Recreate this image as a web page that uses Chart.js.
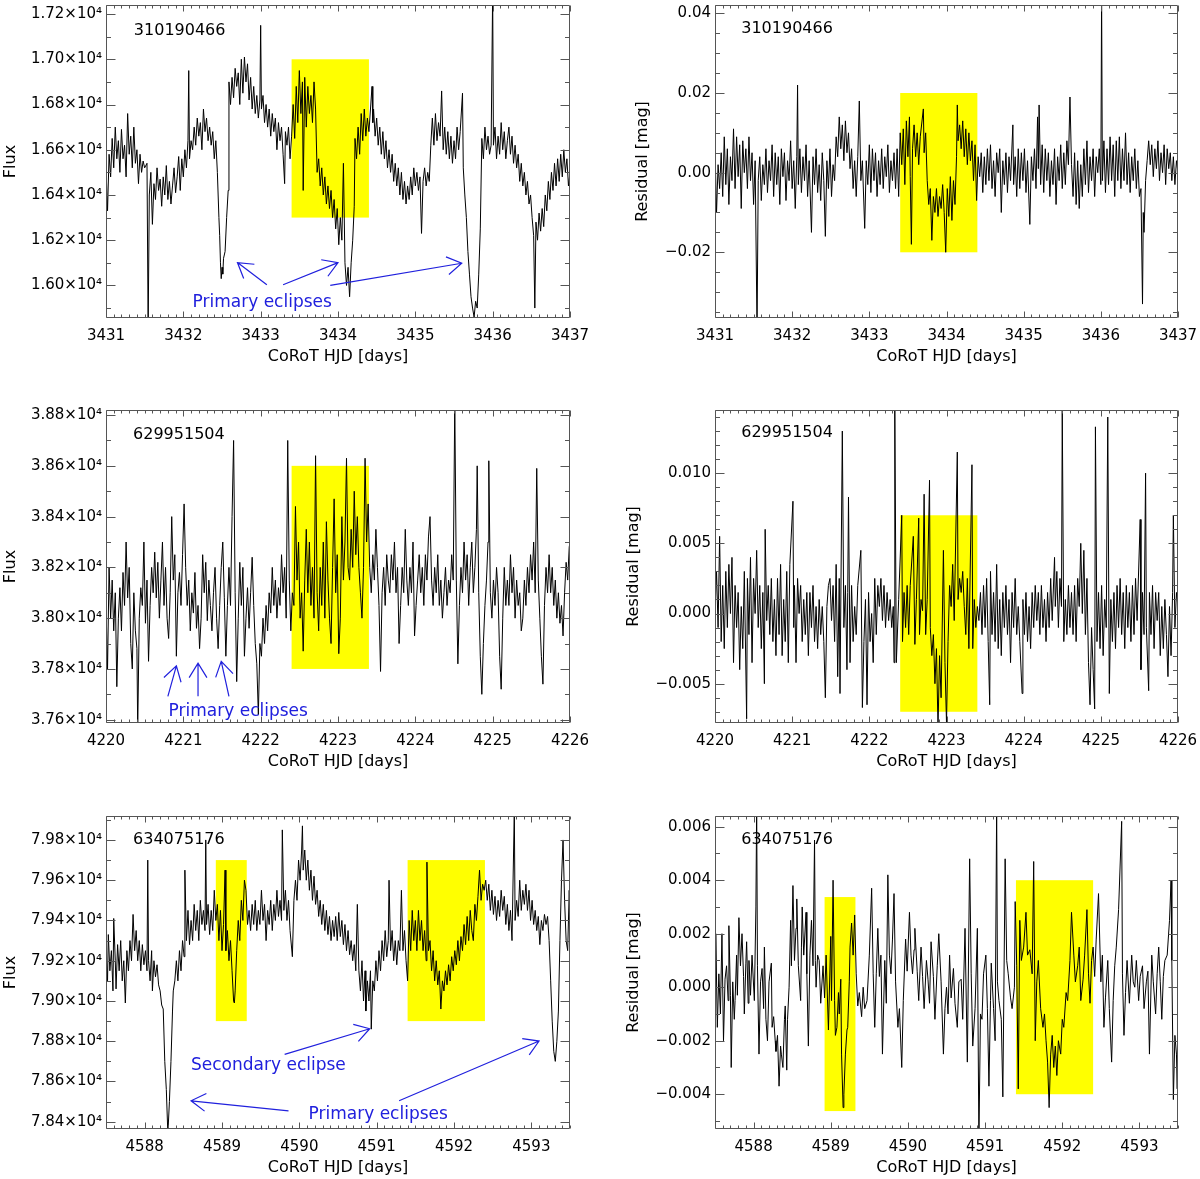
<!DOCTYPE html>
<html>
<head>
<meta charset="utf-8">
<script src="https://cdn.jsdelivr.net/npm/chart.js@4.4.1/dist/chart.umd.min.js"></script>
<style>
html, body { margin: 0; padding: 0; background: #fff; }
body { width: 1200px; height: 1179px; position: relative; overflow: hidden; }
canvas { position: absolute; }
</style>
</head>
<body>
<canvas id="p1" width="590" height="368" style="left:0px;top:0px"></canvas>
<canvas id="p2" width="600" height="368" style="left:600px;top:0px"></canvas>
<canvas id="p3" width="590" height="368" style="left:0px;top:405px"></canvas>
<canvas id="p4" width="600" height="368" style="left:600px;top:405px"></canvas>
<canvas id="p5" width="590" height="368" style="left:0px;top:811px"></canvas>
<canvas id="p6" width="600" height="368" style="left:600px;top:811px"></canvas>
<script>
// light curves: [CoRoT HJD, value]
const flux310 = [
  [3431.00,16520],[3431.02,16330],[3431.04,16580],[3431.06,16480],[3431.08,16650],[3431.10,16520],[3431.12,16700],[3431.14,16560],
  [3431.16,16640],[3431.18,16500],[3431.20,16690],[3431.22,16560],[3431.24,16620],[3431.26,16480],[3431.28,16760],[3431.30,16580],
  [3431.32,16660],[3431.34,16520],[3431.36,16700],[3431.38,16540],[3431.40,16600],[3431.42,16450],[3431.44,16580],[3431.46,16500],
  [3431.48,16550],[3431.50,16520],[3431.53,16540],[3431.545,15800],[3431.56,16400],[3431.58,16500],[3431.60,16270],[3431.62,16450],
  [3431.64,16380],[3431.66,16520],[3431.68,16420],[3431.70,16470],[3431.72,16350],[3431.74,16480],[3431.76,16400],[3431.78,16530],
  [3431.80,16380],[3431.82,16460],[3431.84,16360],[3431.86,16440],[3431.88,16520],[3431.90,16410],[3431.92,16480],[3431.94,16570],
  [3431.96,16420],[3431.98,16560],[3432.00,16480],[3432.02,16600],[3432.04,16520],[3432.06,16640],[3432.07,16950],[3432.08,16560],
  [3432.10,16640],[3432.12,16600],[3432.14,16700],[3432.16,16620],[3432.18,16740],[3432.20,16660],[3432.22,16720],[3432.24,16600],
  [3432.26,16780],[3432.28,16680],[3432.30,16740],[3432.32,16640],[3432.34,16700],[3432.36,16620],[3432.38,16680],[3432.40,16560],
  [3432.42,16640],[3432.44,16500],[3432.46,16300],[3432.47,16220],[3432.48,16100],[3432.49,16030],[3432.50,16080],[3432.51,16050],
  [3432.52,16120],[3432.54,16150],[3432.56,16300],[3432.58,16420],[3432.59,16900],[3432.61,16800],[3432.63,16920],[3432.65,16830],
  [3432.67,16960],[3432.69,16880],[3432.71,16940],[3432.73,16800],[3432.75,17000],[3432.77,16850],[3432.79,17010],[3432.81,16900],
  [3432.83,16980],[3432.85,16820],[3432.87,16920],[3432.89,16780],[3432.91,16880],[3432.93,16760],[3432.95,16840],[3432.97,16740],
  [3432.99,16820],[3433.00,17150],[3433.01,16780],[3433.03,16840],[3433.05,16720],[3433.07,16800],[3433.09,16700],[3433.11,16780],
  [3433.13,16660],[3433.15,16760],[3433.17,16680],[3433.19,16740],[3433.21,16600],[3433.23,16720],[3433.25,16640],[3433.27,16700],
  [3433.29,16580],[3433.31,16450],[3433.32,16680],[3433.34,16620],[3433.36,16700],[3433.38,16560],[3433.40,16660],[3433.42,16800],
  [3433.44,16650],[3433.46,16880],[3433.48,16720],[3433.50,16950],[3433.52,16760],[3433.54,16900],[3433.55,16420],[3433.57,16920],
  [3433.59,16700],[3433.61,16880],[3433.63,16760],[3433.65,16840],[3433.67,16720],[3433.69,16900],[3433.71,16780],[3433.73,16500],
  [3433.75,16560],[3433.77,16440],[3433.79,16520],[3433.81,16400],[3433.83,16480],[3433.85,16360],[3433.87,16440],[3433.89,16340],
  [3433.91,16420],[3433.93,16300],[3433.95,16380],[3433.97,16250],[3433.99,16340],[3434.01,16180],[3434.03,16300],[3434.05,16200],
  [3434.07,16540],[3434.09,16100],[3434.11,16000],[3434.13,16080],[3434.15,15950],[3434.17,16100],[3434.19,16200],[3434.21,16350],
  [3434.22,16650],[3434.24,16560],[3434.26,16700],[3434.28,16580],[3434.30,16760],[3434.32,16640],[3434.34,16780],[3434.36,16660],
  [3434.38,16740],[3434.40,16680],[3434.44,16880],[3434.45,16720],[3434.46,16780],[3434.48,16660],[3434.50,16740],[3434.52,16620],
  [3434.54,16700],[3434.56,16580],[3434.58,16680],[3434.60,16560],[3434.62,16640],[3434.64,16520],[3434.66,16600],[3434.68,16500],
  [3434.70,16580],[3434.72,16460],[3434.74,16540],[3434.76,16440],[3434.78,16520],[3434.80,16400],[3434.82,16500],[3434.84,16380],
  [3434.86,16460],[3434.88,16360],[3434.90,16440],[3434.92,16380],[3434.94,16480],[3434.96,16400],[3434.98,16520],[3435.00,16440],
  [3435.02,16500],[3435.04,16420],[3435.06,16480],[3435.08,16230],[3435.10,16460],[3435.12,16520],[3435.14,16440],[3435.16,16500],
  [3435.18,16460],[3435.20,16620],[3435.22,16740],[3435.24,16620],[3435.26,16760],[3435.28,16640],[3435.30,16720],[3435.32,16660],
  [3435.34,16860],[3435.36,16600],[3435.38,16700],[3435.40,16580],[3435.42,16680],[3435.44,16560],[3435.46,16660],[3435.48,16540],
  [3435.50,16640],[3435.52,16560],[3435.54,16700],[3435.56,16600],[3435.58,16680],[3435.61,16850],[3435.62,16520],[3435.64,16400],
  [3435.66,16300],[3435.68,16150],[3435.70,16050],[3435.72,15950],[3435.74,15900],[3435.76,15860],[3435.78,15930],[3435.80,15900],
  [3435.82,16050],[3435.84,16250],[3435.86,16650],[3435.88,16560],[3435.90,16700],[3435.92,16600],[3435.94,16660],[3435.96,16580],
  [3435.98,16620],[3436.00,17300],[3436.01,16620],[3436.03,16700],[3436.05,16560],[3436.07,16660],[3436.09,16580],[3436.11,16720],
  [3436.13,16600],[3436.15,16680],[3436.17,16560],[3436.19,16640],[3436.21,16700],[3436.23,16580],[3436.25,16660],[3436.27,16540],
  [3436.29,16620],[3436.31,16520],[3436.33,16580],[3436.35,16460],[3436.37,16540],[3436.39,16440],[3436.41,16500],[3436.43,16400],
  [3436.45,16460],[3436.47,16360],[3436.49,16400],[3436.51,16300],[3436.53,16220],[3436.545,15900],[3436.56,16280],[3436.58,16200],
  [3436.60,16320],[3436.62,16240],[3436.64,16340],[3436.66,16260],[3436.68,16400],[3436.70,16330],[3436.72,16460],[3436.74,16380],
  [3436.76,16500],[3436.78,16420],[3436.80,16540],[3436.82,16440],[3436.84,16560],[3436.86,16460],[3436.88,16580],[3436.90,16480],
  [3436.92,16600],[3436.94,16500],[3436.96,16560],[3436.98,16440],[3437.00,16500]
];
const resid310 = [
  [3431.00,0.006],[3431.02,-0.010],[3431.04,0.002],[3431.06,-0.004],[3431.08,0.005],[3431.10,-0.006],[3431.12,0.009],[3431.14,-0.003],
  [3431.16,0.006],[3431.18,-0.008],[3431.20,0.004],[3431.22,-0.002],[3431.24,0.011],[3431.26,-0.004],[3431.28,0.009],[3431.30,-0.001],
  [3431.32,0.007],[3431.34,-0.009],[3431.36,0.008],[3431.38,0.000],[3431.40,0.006],[3431.42,-0.004],[3431.44,0.009],[3431.46,-0.002],
  [3431.48,0.005],[3431.50,-0.008],[3431.52,0.003],[3431.545,-0.040],[3431.56,-0.002],[3431.58,0.004],[3431.60,-0.007],[3431.62,0.002],
  [3431.64,-0.003],[3431.66,0.006],[3431.68,-0.005],[3431.70,0.003],[3431.72,-0.002],[3431.74,0.007],[3431.76,-0.006],[3431.78,0.005],
  [3431.80,-0.003],[3431.82,0.004],[3431.84,-0.008],[3431.86,0.006],[3431.88,-0.001],[3431.90,0.005],[3431.92,-0.007],[3431.94,0.003],
  [3431.96,-0.002],[3431.98,0.008],[3432.00,-0.004],[3432.02,0.003],[3432.04,-0.009],[3432.06,0.004],[3432.07,0.022],[3432.08,-0.003],
  [3432.10,0.006],[3432.12,-0.005],[3432.14,0.004],[3432.16,-0.002],[3432.18,0.007],[3432.20,-0.006],[3432.22,0.003],[3432.25,-0.015],
  [3432.27,0.004],[3432.29,-0.003],[3432.31,0.006],[3432.33,-0.005],[3432.35,0.002],[3432.37,-0.007],[3432.39,0.005],[3432.41,-0.002],
  [3432.43,-0.016],[3432.45,0.003],[3432.47,-0.004],[3432.49,0.006],[3432.51,-0.006],[3432.53,0.002],[3432.55,-0.002],[3432.57,0.009],
  [3432.59,0.004],[3432.61,0.014],[3432.63,0.006],[3432.65,0.012],[3432.67,0.003],[3432.69,0.013],[3432.71,0.005],[3432.73,0.010],
  [3432.75,0.001],[3432.77,0.006],[3432.79,-0.004],[3432.81,0.003],[3432.83,-0.006],[3432.85,0.004],[3432.87,0.018],[3432.89,-0.002],
  [3432.91,0.003],[3432.94,-0.014],[3432.96,0.003],[3432.98,-0.003],[3433.00,0.007],[3433.02,-0.005],[3433.04,0.006],[3433.06,-0.002],
  [3433.08,0.005],[3433.10,-0.006],[3433.12,0.003],[3433.14,-0.003],[3433.16,0.006],[3433.18,-0.004],[3433.20,0.004],[3433.22,-0.001],
  [3433.24,0.007],[3433.26,-0.005],[3433.28,0.003],[3433.30,-0.002],[3433.32,0.005],[3433.34,-0.004],[3433.36,0.006],[3433.38,-0.006],
  [3433.40,0.010],[3433.42,0.002],[3433.44,0.011],[3433.46,-0.003],[3433.48,0.013],[3433.50,0.004],[3433.52,0.014],[3433.53,-0.001],
  [3433.545,-0.018],[3433.56,0.006],[3433.58,0.012],[3433.60,0.004],[3433.62,0.010],[3433.64,0.002],[3433.66,0.009],[3433.70,0.016],
  [3433.71,0.005],[3433.73,0.010],[3433.75,-0.002],[3433.77,-0.008],[3433.79,-0.004],[3433.81,-0.017],[3433.83,-0.006],[3433.85,-0.010],
  [3433.87,-0.004],[3433.89,-0.011],[3433.91,-0.006],[3433.93,-0.009],[3433.95,-0.003],[3433.97,-0.010],[3433.99,-0.020],[3434.01,-0.004],
  [3434.03,-0.011],[3434.05,-0.001],[3434.07,-0.012],[3434.09,-0.002],[3434.11,-0.008],[3434.13,0.004],[3434.14,0.017],[3434.15,0.008],
  [3434.17,0.012],[3434.19,0.006],[3434.21,0.013],[3434.23,0.004],[3434.25,0.011],[3434.27,0.002],[3434.29,0.010],[3434.31,0.003],
  [3434.33,0.008],[3434.35,-0.002],[3434.37,0.007],[3434.39,-0.007],[3434.41,0.004],[3434.43,-0.001],[3434.45,0.005],[3434.47,-0.005],
  [3434.49,0.004],[3434.51,-0.003],[3434.53,0.006],[3434.55,-0.002],[3434.57,0.007],[3434.59,-0.004],[3434.61,0.003],[3434.63,-0.006],
  [3434.65,0.005],[3434.67,0.000],[3434.69,0.006],[3434.71,-0.010],[3434.73,0.003],[3434.75,-0.003],[3434.77,0.005],[3434.79,-0.005],
  [3434.81,0.004],[3434.83,-0.002],[3434.86,0.012],[3434.87,-0.003],[3434.89,0.004],[3434.91,-0.006],[3434.93,0.006],[3434.95,-0.004],
  [3434.97,0.005],[3434.99,-0.002],[3435.01,0.006],[3435.03,-0.005],[3435.05,0.003],[3435.08,-0.013],[3435.10,0.004],[3435.12,-0.002],
  [3435.14,0.006],[3435.16,-0.004],[3435.18,0.014],[3435.19,0.001],[3435.20,0.017],[3435.22,-0.003],[3435.24,0.007],[3435.26,-0.005],
  [3435.28,0.006],[3435.30,-0.002],[3435.32,0.005],[3435.34,-0.006],[3435.36,0.003],[3435.38,-0.003],[3435.40,0.006],[3435.42,-0.008],
  [3435.44,0.004],[3435.46,-0.002],[3435.48,0.007],[3435.50,-0.004],[3435.52,0.005],[3435.54,-0.003],[3435.56,0.008],[3435.58,0.002],
  [3435.60,0.019],[3435.62,0.002],[3435.64,-0.006],[3435.66,0.005],[3435.68,-0.008],[3435.70,0.003],[3435.72,-0.009],[3435.74,0.002],
  [3435.76,-0.006],[3435.78,0.006],[3435.80,-0.003],[3435.82,0.008],[3435.84,-0.005],[3435.86,0.004],[3435.88,-0.002],[3435.90,0.006],
  [3435.92,-0.006],[3435.94,0.004],[3435.96,0.000],[3435.98,0.006],[3436.00,-0.003],[3436.01,0.045],[3436.02,-0.002],[3436.04,0.008],
  [3436.06,-0.005],[3436.08,0.006],[3436.10,-0.003],[3436.12,0.009],[3436.14,-0.002],[3436.16,0.007],[3436.18,-0.006],[3436.20,0.008],
  [3436.22,-0.002],[3436.24,0.009],[3436.26,-0.004],[3436.28,0.006],[3436.30,-0.002],[3436.32,0.010],[3436.34,-0.003],[3436.36,0.005],
  [3436.38,-0.005],[3436.40,0.004],[3436.42,-0.002],[3436.44,0.006],[3436.46,-0.004],[3436.48,0.003],[3436.50,-0.006],[3436.52,-0.004],
  [3436.54,-0.033],[3436.55,-0.010],[3436.56,-0.015],[3436.58,-0.002],[3436.60,0.003],[3436.62,0.008],[3436.64,0.002],[3436.66,0.007],
  [3436.68,-0.001],[3436.70,0.006],[3436.72,0.001],[3436.74,0.008],[3436.76,-0.002],[3436.78,0.005],[3436.80,0.000],[3436.82,0.007],
  [3436.84,-0.003],[3436.86,0.006],[3436.88,0.001],[3436.90,0.005],[3436.92,-0.002],[3436.94,0.004],[3436.96,-0.003],[3436.98,0.003],
  [3437.00,0.000]
];
const flux629 = [
  [4220.00,38050],[4220.02,37800],[4220.04,38200],[4220.06,38000],[4220.08,38150],[4220.10,37950],[4220.12,38100],[4220.14,37730],
  [4220.16,38000],[4220.18,38120],[4220.20,37950],[4220.22,38180],[4220.24,38050],[4220.26,38300],[4220.28,38080],[4220.30,38200],
  [4220.32,37900],[4220.34,37800],[4220.36,38100],[4220.38,37950],[4220.40,37880],[4220.41,37560],[4220.43,38000],[4220.45,38120],
  [4220.47,38050],[4220.49,38300],[4220.51,37980],[4220.53,38150],[4220.55,37830],[4220.57,38050],[4220.59,38200],[4220.61,38100],
  [4220.63,38260],[4220.65,38080],[4220.67,38220],[4220.69,38000],[4220.71,38150],[4220.73,38300],[4220.75,38050],[4220.77,38200],
  [4220.79,38000],[4220.81,37920],[4220.83,38100],[4220.85,38400],[4220.87,38150],[4220.89,38250],[4220.91,37850],[4220.93,38100],
  [4220.95,38180],[4220.97,38050],[4220.99,38250],[4221.01,38450],[4221.03,38200],[4221.05,38050],[4221.07,38150],[4221.09,37950],
  [4221.11,38100],[4221.13,38020],[4221.15,38180],[4221.17,37960],[4221.19,38050],[4221.21,37880],[4221.23,38000],[4221.25,38250],
  [4221.27,38100],[4221.29,38220],[4221.31,37990],[4221.33,38150],[4221.35,38050],[4221.37,37950],[4221.39,38100],[4221.41,38200],
  [4221.43,38000],[4221.45,37880],[4221.47,38050],[4221.49,38200],[4221.51,38300],[4221.53,38080],[4221.55,37850],[4221.57,38050],
  [4221.59,38200],[4221.61,38050],[4221.63,38400],[4221.65,38700],[4221.67,38100],[4221.69,37750],[4221.71,38000],[4221.73,38220],
  [4221.75,38050],[4221.77,38200],[4221.79,37850],[4221.81,38000],[4221.83,38120],[4221.85,37960],[4221.87,38100],[4221.89,38240],
  [4221.91,38050],[4221.93,37900],[4221.95,37820],[4221.97,37620],[4221.99,37900],[4222.01,37850],[4222.03,38000],[4222.05,37900],
  [4222.07,38050],[4222.09,37950],[4222.11,38100],[4222.13,38020],[4222.15,38200],[4222.17,38050],[4222.19,38150],[4222.21,38000],
  [4222.23,38120],[4222.25,38050],[4222.27,38250],[4222.29,38100],[4222.31,38200],[4222.33,38000],[4222.35,38700],[4222.37,38150],
  [4222.39,37950],[4222.41,38100],[4222.43,38050],[4222.45,38440],[4222.47,38150],[4222.49,38300],[4222.51,38000],[4222.53,38100],
  [4222.55,37870],[4222.57,38150],[4222.59,38350],[4222.61,38100],[4222.63,38300],[4222.65,38050],[4222.67,38200],[4222.69,38000],
  [4222.71,38640],[4222.73,38100],[4222.75,37950],[4222.77,38200],[4222.79,38050],[4222.81,38300],[4222.83,38000],[4222.85,38380],
  [4222.87,38150],[4222.89,38000],[4222.91,37900],[4222.93,38200],[4222.95,38470],[4222.97,38100],[4222.99,38250],[4223.01,37860],
  [4223.03,38000],[4223.05,38400],[4223.07,38150],[4223.09,38300],[4223.11,38630],[4223.13,38200],[4223.15,38150],[4223.17,38350],
  [4223.19,38200],[4223.21,38500],[4223.23,38250],[4223.25,38400],[4223.27,38200],[4223.29,38100],[4223.31,38000],[4223.33,38200],
  [4223.35,38630],[4223.37,38300],[4223.39,38450],[4223.41,38200],[4223.43,38100],[4223.45,38250],[4223.47,38150],[4223.49,38350],
  [4223.51,38200],[4223.53,38050],[4223.55,37790],[4223.57,38100],[4223.59,38200],[4223.61,38050],[4223.63,38250],[4223.65,38150],
  [4223.67,38100],[4223.69,38250],[4223.71,38150],[4223.73,38300],[4223.75,38100],[4223.77,38200],[4223.79,37900],[4223.81,38050],
  [4223.83,38200],[4223.85,38100],[4223.87,38350],[4223.89,38150],[4223.91,38050],[4223.93,38200],[4223.95,38100],[4223.97,38300],
  [4223.99,37930],[4224.01,38050],[4224.03,38150],[4224.05,38250],[4224.07,38100],[4224.09,38200],[4224.11,38050],[4224.13,38250],
  [4224.15,38150],[4224.17,38320],[4224.19,38400],[4224.21,38150],[4224.23,38050],[4224.25,38200],[4224.27,38100],[4224.29,38250],
  [4224.31,38050],[4224.33,38150],[4224.35,38000],[4224.37,38100],[4224.39,38200],[4224.41,38050],[4224.43,38150],[4224.45,38100],
  [4224.47,38250],[4224.49,38150],[4224.51,38850],[4224.53,38150],[4224.55,37820],[4224.57,38050],[4224.59,38200],[4224.61,38100],
  [4224.63,38300],[4224.65,38150],[4224.67,38250],[4224.69,38050],[4224.71,38200],[4224.73,38300],[4224.75,38100],[4224.77,38200],
  [4224.79,38350],[4224.80,38600],[4224.82,38100],[4224.84,37850],[4224.86,37700],[4224.88,37900],[4224.90,38050],[4224.92,38150],
  [4224.94,38300],[4224.95,38620],[4224.97,38100],[4224.99,38000],[4225.01,38150],[4225.03,38050],[4225.05,38200],[4225.07,38100],
  [4225.09,37850],[4225.11,37720],[4225.13,38000],[4225.15,38200],[4225.17,38050],[4225.19,38150],[4225.21,38050],[4225.23,38250],
  [4225.25,38100],[4225.27,38200],[4225.29,38000],[4225.31,38150],[4225.33,38050],[4225.35,38100],[4225.37,37950],[4225.39,38000],
  [4225.41,38150],[4225.43,38050],[4225.45,38200],[4225.47,38100],[4225.49,38250],[4225.51,38150],[4225.53,38300],[4225.55,38100],
  [4225.57,38590],[4225.59,38150],[4225.61,38000],[4225.63,37850],[4225.65,37740],[4225.67,38050],[4225.69,38200],[4225.71,38100],
  [4225.73,38250],[4225.75,38100],[4225.77,38200],[4225.79,38050],[4225.81,38150],[4225.83,38000],[4225.85,38100],[4225.87,37980],
  [4225.89,38050],[4225.91,37930],[4225.93,38100],[4225.95,38220],[4225.97,38150],[4225.99,38280],[4226.00,38300]
];
const resid629 = [
  [4220.00,0.000],[4220.02,0.003],[4220.04,-0.001],[4220.06,0.0055],[4220.08,-0.002],[4220.10,0.002],[4220.12,-0.0025],[4220.14,0.003],
  [4220.16,-0.001],[4220.18,0.0035],[4220.20,0.000],[4220.22,0.004],[4220.24,-0.0035],[4220.26,0.002],[4220.28,-0.001],[4220.30,0.0015],
  [4220.32,-0.004],[4220.34,0.0005],[4220.36,-0.0025],[4220.38,0.003],[4220.41,-0.0075],[4220.42,0.0025],[4220.44,-0.0015],[4220.46,0.004],
  [4220.48,-0.0035],[4220.50,0.0025],[4220.52,0.000],[4220.54,0.0045],[4220.56,-0.001],[4220.58,0.002],[4220.60,-0.0025],[4220.62,0.0015],
  [4220.64,-0.005],[4220.65,0.006],[4220.67,-0.0005],[4220.69,0.002],[4220.71,-0.0015],[4220.73,0.0025],[4220.75,-0.002],[4220.77,0.001],
  [4220.79,-0.003],[4220.81,0.0025],[4220.83,-0.0015],[4220.85,0.0035],[4220.87,-0.003],[4220.89,0.001],[4220.91,-0.002],[4220.93,0.003],
  [4220.95,-0.0035],[4220.97,0.0035],[4221.01,0.008],[4221.02,-0.001],[4221.03,0.002],[4221.05,-0.0035],[4221.07,0.0025],[4221.09,0.000],
  [4221.11,0.002],[4221.13,-0.002],[4221.15,0.001],[4221.17,-0.0015],[4221.19,0.0015],[4221.21,-0.003],[4221.23,0.0015],[4221.25,-0.001],
  [4221.27,0.002],[4221.29,-0.002],[4221.31,0.0005],[4221.33,-0.0025],[4221.35,0.001],[4221.37,-0.0015],[4221.39,0.0005],[4221.41,-0.002],
  [4221.43,-0.006],[4221.45,0.0005],[4221.47,0.002],[4221.49,0.0025],[4221.51,-0.0005],[4221.53,0.002],[4221.55,-0.002],[4221.57,0.0035],
  [4221.59,-0.0045],[4221.61,0.0025],[4221.62,-0.0057],[4221.65,0.013],[4221.67,-0.001],[4221.69,0.002],[4221.71,-0.004],[4221.72,0.0015],
  [4221.73,0.0083],[4221.75,-0.0035],[4221.77,0.002],[4221.79,-0.002],[4221.81,0.0005],[4221.83,-0.0015],[4221.85,0.002],[4221.89,0.0045],
  [4221.91,-0.0067],[4221.93,-0.002],[4221.95,0.001],[4221.97,-0.0065],[4221.99,0.0015],[4222.01,-0.002],[4222.03,0.000],[4222.05,-0.0035],
  [4222.07,0.0025],[4222.09,-0.0015],[4222.11,0.002],[4222.13,0.0005],[4222.15,0.0025],[4222.17,-0.0005],[4222.19,0.002],[4222.21,-0.001],
  [4222.23,0.0015],[4222.25,-0.0005],[4222.27,0.001],[4222.29,-0.001],[4222.31,0.0005],[4222.32,-0.0035],[4222.33,0.0145],[4222.35,-0.0035],
  [4222.38,0.001],[4222.42,0.007],[4222.43,-0.002],[4222.45,0.0015],[4222.47,-0.001],[4222.49,0.002],[4222.51,-0.0015],[4222.53,0.002],
  [4222.57,0.0055],[4222.59,-0.0022],[4222.61,0.001],[4222.64,0.0068],[4222.65,-0.0015],[4222.67,0.001],[4222.69,0.0002],[4222.71,0.0085],
  [4222.73,-0.0015],[4222.75,0.001],[4222.78,0.0095],[4222.79,-0.001],[4222.81,-0.003],[4222.83,-0.0015],[4222.85,-0.005],[4222.87,-0.0025],
  [4222.89,-0.0082],[4222.91,-0.003],[4222.93,-0.006],[4222.96,0.0045],[4222.98,-0.0035],[4223.00,-0.0078],[4223.02,-0.002],[4223.04,0.002],
  [4223.06,0.0005],[4223.08,0.0035],[4223.10,-0.0005],[4223.14,0.0115],[4223.15,0.001],[4223.17,0.0025],[4223.19,0.0015],[4223.21,0.003],
  [4223.23,0.0005],[4223.25,-0.0015],[4223.27,0.0025],[4223.29,-0.0025],[4223.33,0.0106],[4223.34,-0.0025],[4223.36,0.001],[4223.38,-0.001],
  [4223.40,0.0005],[4223.42,-0.0005],[4223.44,0.0015],[4223.46,-0.0015],[4223.48,0.002],[4223.50,-0.001],[4223.52,0.0025],[4223.54,-0.002],
  [4223.56,-0.0065],[4223.57,0.003],[4223.59,-0.0015],[4223.61,0.0015],[4223.63,-0.002],[4223.65,0.0035],[4223.67,-0.0025],[4223.69,0.001],
  [4223.71,-0.003],[4223.73,0.0015],[4223.75,-0.001],[4223.77,0.002],[4223.79,-0.0015],[4223.81,0.001],[4223.83,-0.0035],[4223.85,0.0015],
  [4223.87,-0.001],[4223.89,0.0025],[4223.91,-0.0015],[4223.93,0.0005],[4223.95,-0.002],[4223.98,-0.0057],[4223.99,0.001],[4224.01,-0.0015],
  [4224.03,0.0015],[4224.05,-0.002],[4224.07,0.0005],[4224.09,-0.0025],[4224.11,0.0015],[4224.13,-0.001],[4224.15,0.002],[4224.17,-0.0005],
  [4224.19,0.0015],[4224.21,-0.0015],[4224.23,0.002],[4224.25,-0.001],[4224.27,0.001],[4224.29,-0.002],[4224.31,0.0015],[4224.33,-0.001],
  [4224.35,0.0025],[4224.37,-0.0005],[4224.40,0.004],[4224.41,0.0005],[4224.43,0.003],[4224.45,-0.001],[4224.47,0.0025],[4224.49,0.0005],
  [4224.50,0.0145],[4224.52,-0.002],[4224.54,0.001],[4224.56,-0.0015],[4224.58,0.002],[4224.60,-0.001],[4224.62,0.0015],[4224.64,-0.0015],
  [4224.66,0.002],[4224.68,-0.002],[4224.70,0.0025],[4224.72,0.0005],[4224.74,0.005],[4224.76,0.000],[4224.78,0.0045],[4224.80,-0.0015],
  [4224.82,0.0025],[4224.84,-0.0035],[4224.86,-0.0065],[4224.88,-0.001],[4224.90,-0.004],[4224.92,-0.0068],[4224.93,0.0133],[4224.95,-0.002],
  [4224.97,0.0015],[4224.99,-0.0025],[4225.01,0.002],[4225.03,-0.003],[4225.05,0.001],[4225.07,-0.001],[4225.09,0.014],[4225.11,-0.0057],
  [4225.13,0.001],[4225.15,-0.002],[4225.17,0.0015],[4225.19,-0.0025],[4225.21,0.002],[4225.23,-0.001],[4225.25,0.0025],[4225.27,-0.0015],
  [4225.29,0.0015],[4225.31,-0.0025],[4225.33,0.002],[4225.35,-0.001],[4225.37,0.0015],[4225.39,-0.002],[4225.41,0.002],[4225.43,-0.0015],
  [4225.45,0.0025],[4225.47,-0.0005],[4225.51,0.0067],[4225.52,-0.004],[4225.54,0.0015],[4225.56,-0.0015],[4225.58,0.010],[4225.59,-0.001],
  [4225.62,-0.0055],[4225.63,0.0015],[4225.65,-0.0015],[4225.67,0.002],[4225.69,-0.0025],[4225.71,0.0015],[4225.73,-0.0005],[4225.75,0.0015],
  [4225.77,-0.003],[4225.79,0.0005],[4225.81,-0.0025],[4225.83,0.001],[4225.85,-0.0015],[4225.87,-0.0045],[4225.89,0.0005],[4225.91,-0.003],
  [4225.93,0.0015],[4225.94,0.007],[4225.96,-0.001],[4225.98,0.0015],[4226.00,0.0005]
];
const flux634 = [
  [4587.50,79250],[4587.52,79100],[4587.53,79330],[4587.55,79150],[4587.57,79250],[4587.59,79050],[4587.60,79410],[4587.62,79200],
  [4587.63,79060],[4587.65,79280],[4587.67,79150],[4587.69,79300],[4587.71,79100],[4587.73,79200],[4587.75,78990],[4587.77,79250],
  [4587.79,79150],[4587.81,79300],[4587.83,79200],[4587.85,79430],[4587.87,79250],[4587.89,79350],[4587.91,79200],[4587.93,79300],
  [4587.95,79150],[4587.97,79280],[4587.99,79180],[4588.01,79250],[4588.03,79150],[4588.04,79700],[4588.05,79200],[4588.07,79100],
  [4588.09,79250],[4588.10,79050],[4588.12,79200],[4588.14,79120],[4588.16,79180],[4588.18,79080],[4588.20,79050],[4588.22,78980],
  [4588.24,78960],[4588.26,78700],[4588.28,78560],[4588.30,78340],[4588.32,78500],[4588.34,78700],[4588.36,78950],[4588.37,79050],
  [4588.39,79100],[4588.41,79200],[4588.43,79100],[4588.45,79250],[4588.47,79150],[4588.49,79300],[4588.51,79220],[4588.52,79650],
  [4588.54,79300],[4588.56,79450],[4588.58,79280],[4588.60,79400],[4588.62,79300],[4588.64,79480],[4588.66,79350],[4588.68,79450],
  [4588.70,79300],[4588.72,79500],[4588.74,79380],[4588.76,79450],[4588.78,79350],[4588.79,79800],[4588.80,79380],[4588.82,79480],
  [4588.84,79330],[4588.86,79450],[4588.88,79350],[4588.90,79550],[4588.92,79400],[4588.94,79480],[4588.96,79300],[4588.98,79450],
  [4589.00,79250],[4589.02,79380],[4589.04,79650],[4589.05,79250],[4589.07,79350],[4589.09,79200],[4589.11,79300],[4589.13,79150],
  [4589.15,79000],[4589.16,78990],[4589.17,79050],[4589.19,79250],[4589.21,79400],[4589.23,79300],[4589.25,79500],[4589.27,79400],
  [4589.29,79600],[4589.31,79550],[4589.33,79380],[4589.35,79450],[4589.37,79350],[4589.39,79480],[4589.41,79380],[4589.43,79500],
  [4589.45,79350],[4589.47,79450],[4589.49,79380],[4589.51,79550],[4589.53,79400],[4589.55,79480],[4589.57,79300],[4589.59,79450],
  [4589.61,79380],[4589.63,79500],[4589.65,79350],[4589.67,79480],[4589.69,79400],[4589.71,79550],[4589.73,79420],[4589.75,79500],
  [4589.77,79400],[4589.78,79850],[4589.80,79450],[4589.82,79550],[4589.84,79400],[4589.86,79500],[4589.88,79350],[4589.91,79220],
  [4589.93,79500],[4589.95,79600],[4589.97,79500],[4589.99,79700],[4590.01,79600],[4590.03,79750],[4590.04,79870],[4590.05,79650],
  [4590.07,79750],[4590.09,79600],[4590.11,79700],[4590.13,79550],[4590.15,79650],[4590.17,79500],[4590.19,79620],[4590.21,79480],
  [4590.23,79550],[4590.25,79420],[4590.27,79500],[4590.29,79380],[4590.31,79480],[4590.33,79350],[4590.35,79450],[4590.37,79330],
  [4590.39,79420],[4590.41,79300],[4590.43,79400],[4590.45,79320],[4590.47,79420],[4590.49,79300],[4590.51,79440],[4590.53,79320],
  [4590.55,79400],[4590.57,79280],[4590.59,79380],[4590.61,79250],[4590.63,79350],[4590.65,79230],[4590.67,79300],[4590.69,79200],
  [4590.71,79280],[4590.73,79150],[4590.75,79480],[4590.77,79150],[4590.79,79050],[4590.81,79200],[4590.83,79000],[4590.85,79150],
  [4590.86,78950],[4590.88,79100],[4590.90,79000],[4590.92,79150],[4590.93,78860],[4590.95,79100],[4590.97,79050],[4590.99,79200],
  [4591.01,79100],[4591.03,79250],[4591.05,79150],[4591.07,79300],[4591.09,79200],[4591.11,79350],[4591.13,79220],[4591.15,79300],
  [4591.16,79600],[4591.18,79250],[4591.20,79350],[4591.22,79200],[4591.24,79300],[4591.26,79180],[4591.28,79300],[4591.30,79250],
  [4591.32,79550],[4591.34,79250],[4591.36,79350],[4591.38,79200],[4591.40,79100],[4591.42,79400],[4591.44,79250],[4591.46,79450],
  [4591.48,79300],[4591.50,79400],[4591.52,79250],[4591.54,79450],[4591.56,79300],[4591.58,79400],[4591.60,79250],[4591.62,79350],
  [4591.64,79200],[4591.65,79690],[4591.67,79250],[4591.69,79300],[4591.71,79150],[4591.73,79250],[4591.75,79100],[4591.77,79200],
  [4591.79,79080],[4591.81,79150],[4591.83,78960],[4591.85,79100],[4591.87,79050],[4591.89,79150],[4591.91,79080],[4591.93,79180],
  [4591.95,79100],[4591.97,79220],[4591.99,79150],[4592.01,79250],[4592.03,79180],[4592.05,79300],[4592.07,79200],[4592.09,79320],
  [4592.11,79250],[4592.13,79380],[4592.15,79280],[4592.17,79420],[4592.19,79300],[4592.21,79450],[4592.23,79350],[4592.25,79300],
  [4592.27,79480],[4592.29,79400],[4592.31,79520],[4592.33,79650],[4592.35,79500],[4592.37,79580],[4592.39,79550],[4592.41,79600],
  [4592.43,79500],[4592.45,79580],[4592.47,79450],[4592.49,79550],[4592.51,79430],[4592.53,79520],[4592.55,79400],[4592.57,79500],
  [4592.59,79420],[4592.61,79550],[4592.63,79450],[4592.65,79520],[4592.67,79380],[4592.69,79480],[4592.71,79350],[4592.73,79450],
  [4592.75,79300],[4592.78,79950],[4592.79,79400],[4592.81,79500],[4592.83,79420],[4592.85,79600],[4592.87,79450],[4592.89,79550],
  [4592.91,79480],[4592.93,79580],[4592.95,79450],[4592.97,79550],[4592.99,79400],[4593.01,79500],[4593.03,79380],[4593.05,79450],
  [4593.07,79350],[4593.09,79420],[4593.11,79280],[4593.13,79400],[4593.15,79350],[4593.17,79430],[4593.19,79380],[4593.21,79420],
  [4593.23,79300],[4593.25,79100],[4593.27,78900],[4593.29,78750],[4593.31,78700],[4593.33,78800],[4593.35,78950],[4593.37,79300],
  [4593.39,79600],[4593.41,79800],[4593.43,79500],[4593.45,79300],[4593.47,79250],[4593.49,79550],[4593.50,79400]
];
const resid634 = [
  [4587.50,0.0005],[4587.51,0.002],[4587.53,-0.0015],[4587.55,0.0005],[4587.57,-0.001],[4587.59,0.002],[4587.61,-0.002],[4587.63,0.0003],
  [4587.65,0.0008],[4587.67,-0.0005],[4587.68,0.0023],[4587.70,-0.0003],[4587.71,-0.003],[4587.73,0.0002],[4587.75,-0.0012],[4587.76,-0.0005],
  [4587.78,0.0012],[4587.79,-0.0003],[4587.81,0.0026],[4587.83,0.0008],[4587.85,0.002],[4587.87,0.0004],[4587.88,-0.001],[4587.90,0.0009],
  [4587.91,0.0017],[4587.93,-0.0006],[4587.94,0.0010],[4587.96,-0.0003],[4587.98,0.0012],[4588.01,-0.0005],[4588.03,0.003],[4588.04,0.0068],
  [4588.05,0.0008],[4588.07,-0.0025],[4588.09,0.0002],[4588.11,0.0007],[4588.13,-0.0008],[4588.14,0.0015],[4588.16,-0.0012],[4588.18,-0.002],
  [4588.20,0.0002],[4588.23,0.0009],[4588.24,-0.0015],[4588.26,-0.0011],[4588.28,-0.002],[4588.29,-0.0024],[4588.31,-0.0018],[4588.33,-0.0037],
  [4588.35,-0.0022],[4588.36,-0.0025],[4588.38,-0.003],[4588.40,-0.0012],[4588.41,-0.0007],[4588.43,-0.0031],[4588.44,-0.0012],[4588.46,0.000],
  [4588.48,0.0025],[4588.49,0.0008],[4588.51,0.0038],[4588.53,0.001],[4588.55,0.0022],[4588.56,0.0033],[4588.58,0.0008],[4588.61,-0.0005],
  [4588.62,0.0015],[4588.63,0.003],[4588.65,0.0012],[4588.68,0.0028],[4588.69,0.0005],[4588.71,-0.0022],[4588.73,0.0012],[4588.75,0.0025],
  [4588.77,0.0008],[4588.79,0.0055],[4588.80,0.0010],[4588.81,0.000],[4588.83,0.0012],[4588.85,0.001],[4588.87,-0.0006],[4588.90,0.0008],
  [4588.92,-0.0004],[4588.94,0.0012],[4588.97,-0.0016],[4589.00,0.0019],[4589.01,-0.0005],[4589.03,0.004],[4589.05,-0.0005],[4589.06,-0.0018],
  [4589.08,-0.0015],[4589.10,-0.0002],[4589.11,-0.0010],[4589.13,0.0003],[4589.14,-0.0025],[4589.16,-0.0045],[4589.17,-0.004],[4589.19,-0.0025],
  [4589.21,-0.0016],[4589.22,-0.0015],[4589.24,0.0002],[4589.25,0.0015],[4589.27,0.0024],[4589.29,0.0012],[4589.31,0.0027],[4589.33,0.0005],
  [4589.35,-0.0007],[4589.37,-0.0002],[4589.40,-0.0011],[4589.42,0.000],[4589.44,-0.0008],[4589.47,-0.0005],[4589.50,0.0012],[4589.53,0.0037],
  [4589.55,0.0005],[4589.57,-0.0015],[4589.59,0.0005],[4589.61,0.0022],[4589.63,0.0004],[4589.65,0.0012],[4589.67,-0.0025],[4589.70,0.001],
  [4589.72,-0.0006],[4589.74,0.0042],[4589.76,0.0012],[4589.78,0.0005],[4589.80,0.0018],[4589.82,0.0035],[4589.84,0.0002],[4589.87,-0.0015],
  [4589.89,-0.0008],[4589.92,-0.003],[4589.94,-0.0005],[4589.97,0.0018],[4589.99,0.0006],[4590.02,0.0028],[4590.04,0.0012],[4590.06,0.0005],
  [4590.08,0.0014],[4590.09,0.0022],[4590.12,0.0006],[4590.14,-0.0005],[4590.17,0.0015],[4590.19,0.0004],[4590.21,-0.0008],[4590.24,0.0010],
  [4590.26,0.0003],[4590.28,-0.0006],[4590.30,0.0017],[4590.33,0.0004],[4590.35,-0.0012],[4590.38,0.0008],[4590.40,0.002],[4590.43,0.0002],
  [4590.46,-0.0025],[4590.48,-0.0008],[4590.50,0.000],[4590.52,-0.0010],[4590.54,0.0012],[4590.56,-0.0004],[4590.59,0.0007],[4590.61,-0.0006],
  [4590.64,-0.0015],[4590.66,0.0002],[4590.69,0.0003],[4590.71,-0.0012],[4590.74,0.0022],[4590.77,-0.0028],[4590.80,0.0048],[4590.82,0.0005],
  [4590.84,-0.0022],[4590.87,-0.0008],[4590.90,0.0022],[4590.92,-0.0058],[4590.94,-0.0010],[4590.96,-0.0012],[4590.98,0.0005],[4591.01,0.0012],
  [4591.03,-0.0008],[4591.05,-0.0037],[4591.07,-0.0005],[4591.08,0.0009],[4591.11,-0.0008],[4591.13,-0.002],[4591.15,0.0068],[4591.16,0.0002],
  [4591.18,-0.0005],[4591.21,-0.0012],[4591.23,-0.0041],[4591.26,0.0048],[4591.28,0.0010],[4591.30,0.0005],[4591.33,-0.0004],[4591.35,-0.0008],
  [4591.38,0.000],[4591.39,0.0032],[4591.41,0.0008],[4591.43,-0.0038],[4591.45,0.0025],[4591.47,0.0010],[4591.50,0.0015],[4591.53,0.0028],
  [4591.55,0.0012],[4591.58,0.0014],[4591.61,0.0005],[4591.63,0.0047],[4591.65,-0.002],[4591.67,0.0002],[4591.69,0.001],[4591.72,-0.0008],
  [4591.75,-0.0015],[4591.77,-0.0010],[4591.79,-0.002],[4591.81,-0.0028],[4591.83,-0.0045],[4591.85,-0.0025],[4591.87,-0.0018],[4591.89,-0.003],
  [4591.91,-0.0022],[4591.93,-0.0033],[4591.95,-0.0020],[4591.98,-0.0025],[4592.00,-0.0012],[4592.02,-0.0015],[4592.05,-0.0002],[4592.07,-0.0005],
  [4592.10,0.0010],[4592.12,0.0028],[4592.15,0.0012],[4592.17,0.0002],[4592.20,0.0008],[4592.22,0.0015],[4592.24,-0.0005],[4592.27,0.0003],
  [4592.29,0.0012],[4592.32,0.0029],[4592.34,0.0005],[4592.36,-0.0006],[4592.38,0.0010],[4592.40,0.0015],[4592.42,0.0004],[4592.44,0.0018],
  [4592.47,0.0035],[4592.50,0.0002],[4592.52,0.0012],[4592.54,-0.0015],[4592.56,-0.0004],[4592.59,0.001],[4592.61,-0.0008],[4592.64,-0.0028],
  [4592.66,-0.0005],[4592.68,0.0008],[4592.70,0.0015],[4592.73,0.0029],[4592.77,0.0062],[4592.78,0.0005],[4592.80,-0.0018],[4592.82,-0.0002],
  [4592.84,0.001],[4592.87,-0.0006],[4592.90,0.0012],[4592.92,0.0002],[4592.94,0.000],[4592.96,0.0010],[4592.99,-0.0005],[4593.01,0.0004],
  [4593.04,0.0008],[4593.06,-0.0008],[4593.09,0.0002],[4593.11,0.0006],[4593.13,-0.0025],[4593.16,0.0012],[4593.18,0.0002],[4593.21,-0.001],
  [4593.23,0.0005],[4593.25,0.0015],[4593.27,0.0002],[4593.29,-0.0012],[4593.31,0.0004],[4593.33,0.001],[4593.36,0.0012],[4593.39,0.0025],
  [4593.41,0.004],[4593.42,0.0010],[4593.44,-0.0042],[4593.46,-0.0018],[4593.48,-0.0025],[4593.49,-0.0038],[4593.50,-0.0005]
];

// axis ticks and labels
const xTicks310 = [3431, 3432, 3433, 3434, 3435, 3436, 3437];
const xLabels310 = ['3431', '3432', '3433', '3434', '3435', '3436', '3437'];
const xTicks629 = [4220, 4221, 4222, 4223, 4224, 4225, 4226];
const xLabels629 = ['4220', '4221', '4222', '4223', '4224', '4225', '4226'];
const xTicks634 = [4588, 4589, 4590, 4591, 4592, 4593];
const xLabels634 = ['4588', '4589', '4590', '4591', '4592', '4593'];

const yTicksFlux310 = [16000, 16200, 16400, 16600, 16800, 17000, 17200];
const yLabelsFlux310 = ['1.60×10⁴', '1.62×10⁴', '1.64×10⁴', '1.66×10⁴', '1.68×10⁴', '1.70×10⁴', '1.72×10⁴'];
const yTicksRes310 = [-0.02, 0.00, 0.02, 0.04];
const yLabelsRes310 = ['−0.02', '0.00', '0.02', '0.04'];
const yTicksFlux629 = [37600, 37800, 38000, 38200, 38400, 38600, 38800];
const yLabelsFlux629 = ['3.76×10⁴', '3.78×10⁴', '3.80×10⁴', '3.82×10⁴', '3.84×10⁴', '3.86×10⁴', '3.88×10⁴'];
const yTicksRes629 = [-0.005, 0.000, 0.005, 0.010];
const yLabelsRes629 = ['−0.005', '0.000', '0.005', '0.010'];
const yTicksFlux634 = [78400, 78600, 78800, 79000, 79200, 79400, 79600, 79800];
const yLabelsFlux634 = ['7.84×10⁴', '7.86×10⁴', '7.88×10⁴', '7.90×10⁴', '7.92×10⁴', '7.94×10⁴', '7.96×10⁴', '7.98×10⁴'];
const yTicksRes634 = [-0.004, -0.002, 0.000, 0.002, 0.004, 0.006];
const yLabelsRes634 = ['−0.004', '−0.002', '0.000', '0.002', '0.004', '0.006'];

const BLUE = '#2020dd';

// frame with inward major/minor ticks, yellow boxes, labels and arrows
const idlDecor = {
  id: 'idlDecor',
  beforeDatasetsDraw(chart, args, o) {
    const { ctx, scales: { x, y } } = chart;
    ctx.save();
    ctx.fillStyle = '#ffff00';
    (o.rects || []).forEach(r => {
      const x0 = x.getPixelForValue(r[0]), x1 = x.getPixelForValue(r[1]);
      const y0 = y.getPixelForValue(r[3]), y1 = y.getPixelForValue(r[2]);
      ctx.fillRect(x0, y0, x1 - x0, y1 - y0);
    });
    ctx.restore();
  },
  afterDatasetsDraw(chart, args, o) {
    const { ctx, chartArea: a, scales: { x, y } } = chart;
    ctx.save();
    ctx.strokeStyle = '#555';
    ctx.lineWidth = 1;
    ctx.beginPath();
    const L = Math.round(a.left) + 0.5, R = Math.round(a.right) - 0.5;
    const T = Math.round(a.top) + 0.5, B = Math.round(a.bottom) - 0.5;
    ctx.rect(L, T, R - L, B - T);
    const xt = (v, len) => {
      const px = Math.round(x.getPixelForValue(v)) + 0.5;
      ctx.moveTo(px, B); ctx.lineTo(px, B - len);
      ctx.moveTo(px, T); ctx.lineTo(px, T + len);
    };
    const yt = (v, len) => {
      const py = Math.round(y.getPixelForValue(v)) + 0.5;
      ctx.moveTo(L, py); ctx.lineTo(L + len, py);
      ctx.moveTo(R, py); ctx.lineTo(R - len, py);
    };
    for (let k = Math.ceil(x.min * 10 - 1e-6); k <= Math.floor(x.max * 10 + 1e-6); k++) {
      xt(k / 10, k % 10 === 0 ? 6 : 3);
    }
    const ys = o.yMinor;
    for (let k = Math.ceil(y.min / ys - 1e-6); k <= Math.floor(y.max / ys + 1e-6); k++) {
      const v = k * ys;
      const major = o.yMajor.some(m => Math.abs(m - v) < ys * 1e-3);
      yt(v, major ? 9 : 4.5);
    }
    ctx.stroke();
    ctx.restore();
  },
  afterDraw(chart, args, o) {
    const { ctx, scales: { x, y } } = chart;
    const px = v => x.getPixelForValue(v), py = v => y.getPixelForValue(v);
    ctx.save();
    ctx.fillStyle = '#000';
    ctx.font = '16px "DejaVu Sans"';
    ctx.textAlign = 'left';
    ctx.textBaseline = 'middle';
    ctx.fillText(o.id[2], px(o.id[0]), py(o.id[1]));
    ctx.strokeStyle = BLUE;
    ctx.fillStyle = BLUE;
    ctx.lineWidth = 1.2;
    (o.arrows || []).forEach(ar => {
      const x0 = px(ar[0]), y0 = py(ar[1]), x1 = px(ar[2]), y1 = py(ar[3]);
      const ang = Math.atan2(y1 - y0, x1 - x0);
      const h = 17, s = 0.55;
      ctx.beginPath();
      ctx.moveTo(x0, y0); ctx.lineTo(x1, y1);
      ctx.moveTo(x1 - h * Math.cos(ang - s), y1 - h * Math.sin(ang - s));
      ctx.lineTo(x1, y1);
      ctx.lineTo(x1 - h * Math.cos(ang + s), y1 - h * Math.sin(ang + s));
      ctx.stroke();
    });
    ctx.font = '17px "DejaVu Sans"';
    ctx.textAlign = 'center';
    (o.notes || []).forEach(n => ctx.fillText(n[2], px(n[0]), py(n[1])));
    ctx.restore();
  }
};

function panel(id, p) {
  const ctx = document.getElementById(id).getContext('2d');
  return new Chart(ctx, {
    type: 'line',
    data: {
      datasets: [{
        data: p.series.map(d => ({ x: d[0], y: d[1] })),
        borderColor: '#000',
        borderWidth: 1,
        pointRadius: 0,
        tension: 0,
        fill: false
      }]
    },
    options: {
      responsive: false,
      animation: false,
      events: [],
      layout: { padding: { top: 5, right: p.rightPad, left: 0, bottom: 0 } },
      plugins: {
        legend: { display: false },
        tooltip: { enabled: false },
        idlDecor: {
          rects: p.rects, yMinor: p.yMinor, yMajor: p.yTicks,
          id: p.id, arrows: p.arrows, notes: p.notes
        }
      },
      scales: {
        x: {
          type: 'linear', min: p.xMin, max: p.xMax,
          grid: { display: false, drawTicks: false },
          border: { display: false },
          afterBuildTicks: s => { s.ticks = p.xTicks.map(v => ({ value: v })); },
          afterFit: s => { s.height = 50; s.paddingLeft = 0; s.paddingRight = 0; },
          ticks: {
            autoSkip: false, maxRotation: 0, padding: 9, color: '#000',
            font: { family: 'DejaVu Sans', size: 15 },
            callback: (v, i) => p.xLabels[i]
          },
          title: {
            display: true, text: 'CoRoT HJD [days]', color: '#000',
            font: { family: 'DejaVu Sans', size: 16 },
            padding: { top: 0, bottom: 2 }
          }
        },
        y: {
          type: 'linear', min: p.yMin, max: p.yMax,
          grid: { display: false, drawTicks: false },
          border: { display: false },
          afterBuildTicks: s => { s.ticks = p.yTicks.map(v => ({ value: v })); },
          afterFit: s => { s.width = p.yAxisWidth; s.paddingTop = 0; s.paddingBottom = 0; },
          ticks: {
            autoSkip: false, padding: 4, color: '#000',
            font: { family: 'DejaVu Sans', size: 15 },
            callback: (v, i) => p.yLabels[i]
          },
          title: {
            display: true, text: p.yTitle, color: '#000',
            font: { family: 'DejaVu Sans', size: 16 },
            padding: { top: p.yTitlePad, bottom: 0 }
          }
        }
      }
    },
    plugins: [idlDecor]
  });
}

panel('p1', {
  series: flux310, xMin: 3431, xMax: 3437, yMin: 15856, yMax: 17240,
  xTicks: xTicks310, xLabels: xLabels310, yTicks: yTicksFlux310, yLabels: yLabelsFlux310, yMinor: 100,
  yTitle: 'Flux', yTitlePad: 1.5, yAxisWidth: 106, rightPad: 20,
  rects: [[3433.4, 3434.4, 16300, 17000]],
  id: [3431.36, 17126, '310190466'],
  arrows: [[3433.08, 16003, 3432.70, 16101], [3433.29, 16003, 3434.00, 16101], [3433.90, 16000, 3435.60, 16098]],
  notes: [[3433.02, 15926, 'Primary eclipses']]
});
panel('p2', {
  series: resid310, xMin: 3431, xMax: 3437, yMin: -0.0365, yMax: 0.0421,
  xTicks: xTicks310, xLabels: xLabels310, yTicks: yTicksRes310, yLabels: yLabelsRes310, yMinor: 0.005,
  yTitle: 'Residual [mag]', yTitlePad: 33, yAxisWidth: 115, rightPad: 22,
  rects: [[3433.4, 3434.4, -0.02, 0.02]],
  id: [3431.34, 0.0362, '310190466']
});
panel('p3', {
  series: flux629, xMin: 4220, xMax: 4226, yMin: 37587, yMax: 38820,
  xTicks: xTicks629, xLabels: xLabels629, yTicks: yTicksFlux629, yLabels: yLabelsFlux629, yMinor: 100,
  yTitle: 'Flux', yTitlePad: 1.5, yAxisWidth: 106, rightPad: 20,
  rects: [[4222.4, 4223.4, 37800, 38600]],
  id: [4220.35, 38721, '629951504'],
  arrows: [[4220.80, 37692, 4220.91, 37812], [4221.19, 37692, 4221.19, 37823], [4221.59, 37692, 4221.49, 37830]],
  notes: [[4221.71, 37633, 'Primary eclipses']]
});
panel('p4', {
  series: resid629, xMin: 4220, xMax: 4226, yMin: -0.0078, yMax: 0.0145,
  xTicks: xTicks629, xLabels: xLabels629, yTicks: yTicksRes629, yLabels: yLabelsRes629, yMinor: 0.001,
  yTitle: 'Residual [mag]', yTitlePad: 24, yAxisWidth: 115, rightPad: 22,
  rects: [[4222.4, 4223.4, -0.007, 0.007]],
  id: [4220.34, 0.01287, '629951504']
});
panel('p5', {
  series: flux634, xMin: 4587.5, xMax: 4593.5, yMin: 78364, yMax: 79919,
  xTicks: xTicks634, xLabels: xLabels634, yTicks: yTicksFlux634, yLabels: yLabelsFlux634, yMinor: 100,
  yTitle: 'Flux', yTitlePad: 1.5, yAxisWidth: 106, rightPad: 20,
  rects: [[4588.92, 4589.32, 78900, 79700], [4591.4, 4592.4, 78900, 79700]],
  id: [4587.85, 79803, '634075176'],
  arrows: [[4589.81, 78735, 4590.91, 78862], [4589.86, 78454, 4588.60, 78504], [4591.29, 78504, 4593.10, 78801]],
  notes: [[4589.60, 78677, 'Secondary eclipse'], [4591.02, 78437, 'Primary eclipses']]
});
panel('p6', {
  series: resid634, xMin: 4587.5, xMax: 4593.5, yMin: -0.0053, yMax: 0.0064,
  xTicks: xTicks634, xLabels: xLabels634, yTicks: yTicksRes634, yLabels: yLabelsRes634, yMinor: 0.001,
  yTitle: 'Residual [mag]', yTitlePad: 24, yAxisWidth: 115, rightPad: 22,
  rects: [[4588.92, 4589.32, -0.00463, 0.00337], [4591.4, 4592.4, -0.004, 0.004]],
  id: [4587.84, 0.00551, '634075176']
});
</script>
</body>
</html>
